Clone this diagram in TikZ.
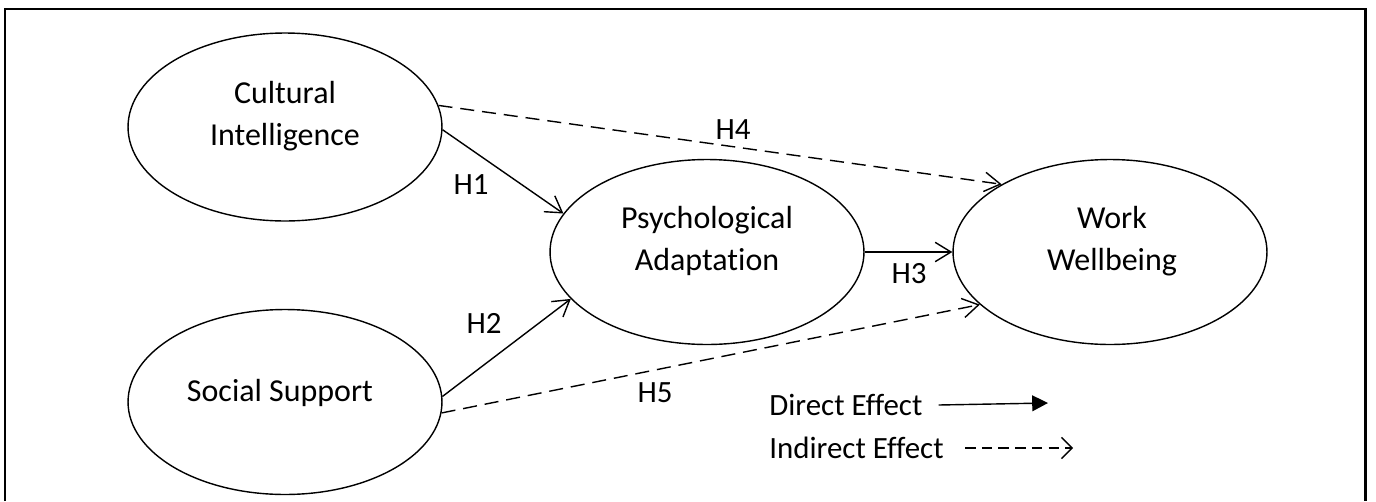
\documentclass[tikz,border=0pt]{standalone}
\usepackage{fontspec}
\setmainfont{Carlito}[Ligatures=NoCommon]
\usetikzlibrary{shapes.geometric,arrows.meta}

\tikzset{
  construct/.style={draw,ellipse,line width=0.8pt,inner sep=0pt,minimum width=6.28cm},
  ctext/.style={align=center,inner sep=0pt,font=\fontsize{18.2}{23.8}\selectfont},
  direct/.style={line width=0.8pt,-{Straight Barb[length=9pt,width=11pt]}},
  indirect/.style={direct,dash pattern=on 8pt off 4.5pt},
  hlabel/.style={font=\fontsize{17.6}{20}\selectfont}
}

\begin{document}
\begin{tikzpicture}[x=0.02cm,y=-0.02cm]
  \useasboundingbox (0,0) rectangle (1376,501);
  \draw[line width=1.7pt] (5,501) -- (5,9) -- (1365,9) -- (1365,501);

  \node(ci)[construct,minimum height=3.76cm] at (285,127) {};
  \node(ss)[construct,minimum height=3.70cm] at (285,402) {};
  \node(pa)[construct,minimum height=3.70cm] at (707,252) {};
  \node(ww)[construct,minimum height=3.70cm] at (1110,252) {};

  \node(citext)[ctext] at (285,116) {Cultural\\Intelligence};
  \node(sstext)[ctext] at (280,393) {Social Support};
  \node(patext)[ctext] at (707,241) {Psychological\\Adaptation};
  \node(wwtext)[ctext] at (1112,241) {Work\\Wellbeing};

  \draw [direct] (ci.-1) -- (pa.165);
  \draw [direct] (ss.2) -- (pa.-161);
  \draw [direct] (pa.0) -- (ww.180);
  \draw [indirect] (ci.8) -- (ww.148);
  \draw [indirect] (ss.-4) -- (ww.-158);

  \node(h1)[hlabel] at (471,185) {H1};
  \node(h2)[hlabel] at (484,323) {H2};
  \node(h3)[hlabel] at (909,274) {H3};
  \node(h4)[hlabel] at (733,130) {H4};
  \node(h5)[hlabel] at (655,393) {H5};

  % legend
  \node(de)[hlabel,anchor=west,inner sep=0pt] at (769,405) {Direct Effect};
  \node(ie)[hlabel,anchor=west,inner sep=0pt] at (769,448) {Indirect Effect};
  \coordinate(deend) at (1048,403);
  \coordinate(ieend) at (1073,448);
  \draw [line width=0.8pt,-{Triangle[length=9pt,width=9pt]}] ([xshift=9pt]de.east) -- (deend);
  \draw [line width=0.8pt,dash pattern=on 6pt off 3.5pt,-{Straight Barb[length=6pt,width=12pt]}] ([xshift=12pt]ie.east) -- (ieend);
\end{tikzpicture}
\end{document}
